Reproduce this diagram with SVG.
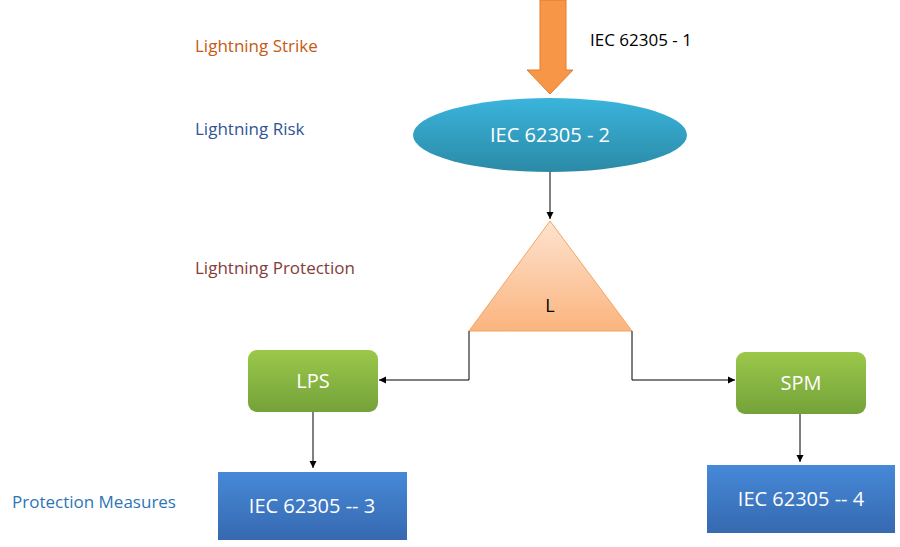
<svg xmlns="http://www.w3.org/2000/svg" width="900" height="547" viewBox="0 0 900 547">
<style>
text{font-family:"Open Sans","Liberation Sans",sans-serif}
.lbl{font-size:17px}
.w{fill:#fff;font-size:20px;text-anchor:middle}
.c{stroke:#000;stroke-width:1;fill:none}
</style>
<defs>
<marker id="ah" markerWidth="8" markerHeight="8" refX="7" refY="4" orient="auto" markerUnits="userSpaceOnUse"><path d="M0,0.5 L7,4 L0,7.5z" fill="#000"/></marker>
<linearGradient id="gB" x1="0" y1="0" x2="0" y2="1"><stop offset="0" stop-color="#3ab4dc"/><stop offset="1" stop-color="#2b8aa6"/></linearGradient>
<linearGradient id="gT" x1="0" y1="0" x2="0" y2="1"><stop offset="0" stop-color="#fde3cf"/><stop offset="1" stop-color="#fbb47e"/></linearGradient>
<linearGradient id="gG" x1="0" y1="0" x2="0" y2="1"><stop offset="0" stop-color="#9bc84a"/><stop offset="1" stop-color="#74a23a"/></linearGradient>
<linearGradient id="gD" x1="0" y1="0" x2="0" y2="1"><stop offset="0" stop-color="#4689d8"/><stop offset="1" stop-color="#3669b0"/></linearGradient>
</defs>
<text class="lbl" x="195" y="52" fill="#c55a11">Lightning Strike</text>
<text class="lbl" x="195" y="135" fill="#2f5597">Lightning Risk</text>
<text class="lbl" x="195" y="274" fill="#843c3c">Lightning Protection</text>
<text class="lbl" x="12" y="508" fill="#2e75b6">Protection Measures</text>
<text class="lbl" x="590" y="46" fill="#000">IEC 62305 - 1</text>
<g id="strike"><path d="M540,0 H566 V70 H573 L550,94 L527,70 H540Z" fill="#f79646" stroke="#e07d2e"/></g>
<g id="risk"><ellipse cx="550" cy="135" rx="137" ry="37" fill="url(#gB)"/><text class="w" x="550" y="142">IEC 62305 - 2</text></g>
<g id="L"><path d="M550,221 L632,331 H469Z" fill="url(#gT)" stroke="#f4a460"/><text x="550" y="312" font-size="18" text-anchor="middle" fill="#000">L</text></g>
<g id="lps"><rect x="248" y="350" width="130" height="62" rx="9" fill="url(#gG)"/><text class="w" x="313" y="388">LPS</text></g>
<g id="spm"><rect x="736" y="352" width="130" height="62" rx="9" fill="url(#gG)"/><text class="w" x="801" y="390">SPM</text></g>
<g id="iec3"><rect x="218" y="472" width="189" height="68" fill="url(#gD)"/><text class="w" x="312" y="513">IEC 62305 -- 3</text></g>
<g id="iec4"><rect x="707" y="465" width="188" height="68" fill="url(#gD)"/><text class="w" x="801" y="506">IEC 62305 -- 4</text></g>
<g id="connectors">
<path class="c" d="M550,172 V219" marker-end="url(#ah)"/>
<path class="c" d="M469,331 V380 H379" marker-end="url(#ah)"/>
<path class="c" d="M632,331 V380 H735" marker-end="url(#ah)"/>
<path class="c" d="M313,412 V468" marker-end="url(#ah)"/>
<path class="c" d="M800,414 V462" marker-end="url(#ah)"/>
</g>
</svg>
